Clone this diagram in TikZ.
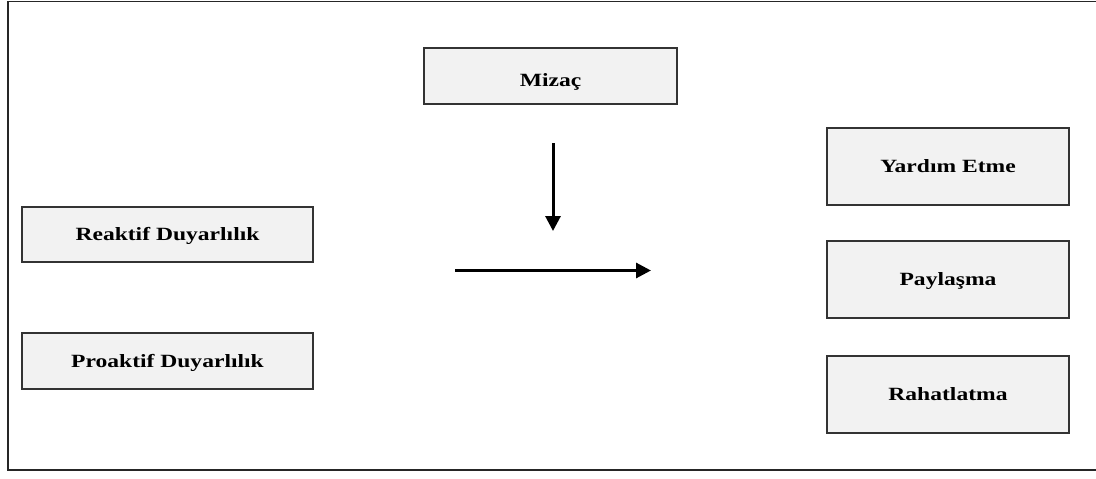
\documentclass[tikz,border=0pt]{standalone}
\usepackage{fontspec}
\newfontfamily\boxfont[FakeStretch=1.26]{Liberation Serif}
\usetikzlibrary{arrows.meta}
\definecolor{boxfill}{HTML}{F2F2F2}
\definecolor{boxline}{HTML}{333333}
\tikzset{
  boxnode/.style={draw=boxline, line width=1.4pt, fill=boxfill, rectangle, inner sep=0pt,
    text height=16.4pt, text depth=4pt,
    font=\boxfont\bfseries\fontsize{18.7}{22}\selectfont},
  arrowline/.style={line width=3pt, -{Triangle[length=15pt,width=15pt]}},
  framebox/.style={draw=black!85, line width=1.8pt}
}
\begin{document}
\begin{tikzpicture}[x=1pt,y=-1pt]
\useasboundingbox (0,0) rectangle (1096,479);
\draw[framebox] (8,1.5) rectangle (1110,470);
\node[boxnode, minimum width=291pt, minimum height=55pt] (reaktif) at (167.5,234.5) {Reaktif Duyarlılık};
\node[boxnode, minimum width=291pt, minimum height=56pt] (proaktif) at (167.5,361) {Proaktif Duyarlılık};
\node[boxnode, minimum width=253pt, minimum height=56pt, text height=24.4pt] (mizac) at (550.5,76) {Mizaç};
\node[boxnode, minimum width=242pt, minimum height=77pt] (yardim) at (948,166.5) {Yardım Etme};
\node[boxnode, minimum width=242pt, minimum height=77pt] (paylasma) at (948,279.5) {Paylaşma};
\node[boxnode, minimum width=242pt, minimum height=77pt] (rahat) at (948,394.5) {Rahatlatma};
\coordinate (vs) at (553,143);
\coordinate (ve) at (553,231);
\coordinate (hs) at (455,270.5);
\coordinate (he) at (651,270.5);
\draw[arrowline] (vs) -- (ve);
\draw[arrowline] (hs) -- (he);
\end{tikzpicture}
\end{document}
